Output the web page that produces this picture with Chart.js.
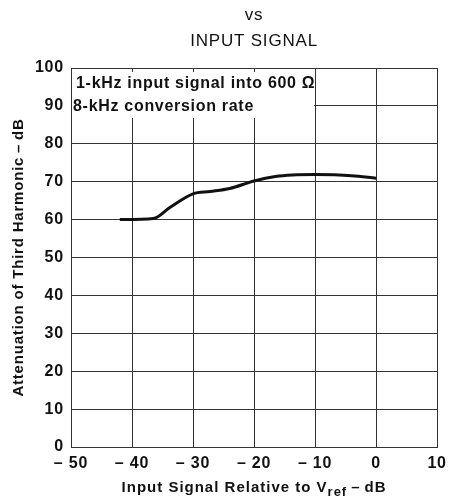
<!DOCTYPE html>
<html>
<head>
<meta charset="utf-8">
<script src="https://cdn.jsdelivr.net/npm/chart.js@4.4.1/dist/chart.umd.min.js"></script>
<style>
  html, body { margin: 0; padding: 0; background: #fff; }
  #wrap { width: 453px; height: 498px; }
</style>
</head>
<body>
<div id="wrap"><canvas id="harmonicChart"></canvas></div>
<script>
// Curve
const inputLevel = [-42, -36.5, -33.8, -30, -27.2, -24, -20, -16.5, -13.7, -10, -4, 0];
const attenuation = [60, 60.3, 63.2, 66.8, 67.4, 68.2, 70.2, 71.4, 71.8, 71.9, 71.6, 70.9];

const titleLines = ["vs", "INPUT SIGNAL"];
const noteLines = ["1-kHz input signal into 600 \u03A9", "8-kHz conversion rate"];
const yTitle = "Attenuation of Third Harmonic\u2009\u2013\u2009dB";

const INK = "#111";
const FONT = "'Liberation Sans', Arial, sans-serif";

// Wider letter spacing, like the printed datasheet lettering
const spacingPlugin = {
    id: "letterSpacing",
    beforeDraw(chart) {
        chart.ctx.letterSpacing = "0.8px";
    }
};

// White note box in the top-left corner of the grid
const notePlugin = {
    id: "noteBox",
    beforeDatasetsDraw(chart) {
        const { ctx, scales: { x, y } } = chart;
        const left = x.getPixelForValue(-50) + 1;
        const right = x.getPixelForValue(-10) - 1;
        const top = y.getPixelForValue(100) + 4;
        const bottom = y.getPixelForValue(86.8);
        ctx.save();
        ctx.fillStyle = "#fff";
        ctx.fillRect(left, top, right - left, bottom - top);
        ctx.fillStyle = INK;
        ctx.letterSpacing = "0.7px";
        ctx.font = "bold 16px " + FONT;
        ctx.textBaseline = "middle";
        ctx.fillText(noteLines[0], left + 4, top + 12);
        ctx.fillText(noteLines[1], left + 1, y.getPixelForValue(90) + 1);
        ctx.restore();
    }
};

// X title with subscript "ref"
const xTitlePlugin = {
    id: "xTitleSub",
    afterDraw(chart) {
        const { ctx, chartArea } = chart;
        const cx = (chartArea.left + chartArea.right) / 2;
        const yPos = 488;
        const big = "bold 15px " + FONT;
        const small = "bold 13px " + FONT;
        const part1 = "Input Signal Relative to V";
        const sub = "ref";
        const part2 = "\u2009\u2013\u2009dB";
        ctx.save();
        ctx.fillStyle = INK;
        ctx.letterSpacing = "1px";
        ctx.textBaseline = "middle";
        ctx.font = big;
        const w1 = ctx.measureText(part1).width;
        const w3 = ctx.measureText(part2).width;
        ctx.font = small;
        const w2 = ctx.measureText(sub).width;
        let xPos = cx - (w1 + w2 + w3) / 2;
        ctx.font = big;
        ctx.fillText(part1, xPos, yPos);
        xPos += w1;
        ctx.font = small;
        ctx.fillText(sub, xPos, yPos + 4);
        xPos += w2;
        ctx.font = big;
        ctx.fillText(part2, xPos, yPos);
        ctx.restore();
    }
};

document.addEventListener("DOMContentLoaded", function () {
    const ctx = document.getElementById("harmonicChart").getContext("2d");

    new Chart(ctx, {
        type: "line",
        data: {
            datasets: [{
                data: inputLevel.map((v, i) => ({ x: v, y: attenuation[i] })),
                borderColor: INK,
                borderWidth: 3,
                pointRadius: 0,
                tension: 0.4,
                cubicInterpolationMode: "monotone",
                fill: false
            }]
        },
        options: {
            responsive: true,
            maintainAspectRatio: false,
            animation: false,
            layout: { padding: { left: 0, right: 14, top: 0, bottom: 0 } },
            plugins: {
                legend: { display: false },
                tooltip: { enabled: false },
                title: {
                    display: true,
                    fullSize: false,
                    text: titleLines,
                    color: INK,
                    font: { family: FONT, size: 17, weight: "normal", lineHeight: 1.5 },
                    padding: { top: 3, bottom: 14 }
                }
            },
            scales: {
                x: {
                    type: "linear",
                    min: -50,
                    max: 10,
                    afterFit: scale => { scale.height = 51; },
                    grid: { color: "#333", lineWidth: 1, drawTicks: false },
                    border: { color: "#333", width: 1 },
                    ticks: {
                        stepSize: 10,
                        color: INK,
                        padding: 7,
                        font: { family: FONT, size: 16, weight: "bold" },
                        callback: v => v < 0 ? "\u2013 " + Math.abs(v) : v
                    }
                },
                y: {
                    min: 0,
                    max: 100,
                    afterFit: scale => { scale.width = 71; },
                    grid: { color: "#333", lineWidth: 1, drawTicks: false },
                    border: { color: "#333", width: 1 },
                    ticks: {
                        stepSize: 10,
                        color: INK,
                        padding: 7,
                        font: { family: FONT, size: 16, weight: "bold" }
                    },
                    title: {
                        display: true,
                        text: yTitle,
                        color: INK,
                        font: { family: FONT, size: 15, weight: "bold" },
                        padding: { top: 10, bottom: 0 }
                    }
                }
            }
        },
        plugins: [spacingPlugin, notePlugin, xTitlePlugin]
    });
});
</script>
</body>
</html>
